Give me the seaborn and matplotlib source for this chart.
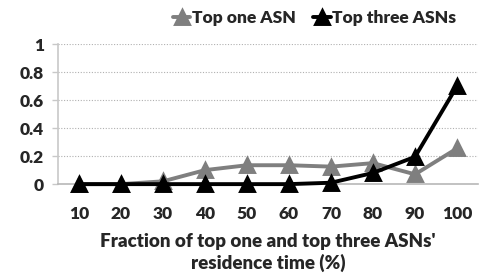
import pandas as pd
import matplotlib
matplotlib.use('Agg')
import matplotlib.pyplot as plt
import seaborn as sns

# Data
fractions = ['10', '20', '30', '40', '50', '60', '70', '80', '90', '100']
top_one = [0, 0, 0.02, 0.1, 0.135, 0.135, 0.125, 0.15, 0.07, 0.255]
top_three = [0, 0, 0, 0, 0, 0, 0.01, 0.08, 0.195, 0.7]

df = pd.DataFrame({
    'fraction': fractions * 2,
    'value': top_one + top_three,
    'series': ['Top one ASN'] * len(fractions) + ['Top three ASNs'] * len(fractions),
})

sns.set_style('white')
plt.rcParams['font.family'] = ['Lato', 'DejaVu Sans']
plt.rcParams['font.weight'] = 'heavy'

fig = plt.figure(figsize=(4.79, 2.74), dpi=100)
ax = fig.add_axes([0.121, 0.328, 0.877, 0.511])

palette = {'Top one ASN': '#7f7f7f', 'Top three ASNs': '#000000'}
sns.pointplot(data=df, x='fraction', y='value', hue='series', order=fractions,
              palette=palette, markers='^', linewidth=2.8, markersize=9.5,
              ax=ax, errorbar=None)

# let the markers sitting on zero show fully, above the axis line
for ln in ax.lines:
    ln.set_clip_on(False)
    ln.set_zorder(5)
ax.lines[-1].set_zorder(6)

ax.set_ylim(0, 1)
ax.set_xlim(-0.5, 9.5)
ax.set_yticks([0, 0.2, 0.4, 0.6, 0.8, 1])
ax.set_yticklabels(['0', '0.2', '0.4', '0.6', '0.8', '1'])
ax.yaxis.grid(True, linestyle=(0, (1, 1.5)), color='#b0b0b0', linewidth=0.8)
ax.set_axisbelow(True)

for s in ['top', 'right']:
    ax.spines[s].set_visible(False)
ax.spines['left'].set_color('#c8c8c8')
ax.spines['bottom'].set_color('#b8b8b8')
ax.spines['left'].set_linewidth(1.2)
ax.spines['bottom'].set_linewidth(1.2)

# tick marks at category boundaries on the x axis
ax.set_xticks([i - 0.5 for i in range(11)], minor=True)
ax.tick_params(axis='x', which='minor', length=5, color='#b8b8b8', width=1, direction='out')
ax.tick_params(axis='x', which='major', length=0, labelsize=12.5, pad=16)
ax.tick_params(axis='y', length=4, color='#c8c8c8', width=1, labelsize=12.5, left=True, pad=6)

ax.set_xlabel("Fraction of top one and top three ASNs'\nresidence time (%)",
              fontsize=13.5, fontweight='heavy', labelpad=8, linespacing=1.25)
ax.set_ylabel('')

leg = ax.legend(loc='lower right', bbox_to_anchor=(0.965, 1.08), ncol=2, frameon=False,
                fontsize=12.5, handlelength=1.0, handletextpad=0.1, columnspacing=1.0,
                borderaxespad=0)

fig.savefig('out.png', dpi=100)
